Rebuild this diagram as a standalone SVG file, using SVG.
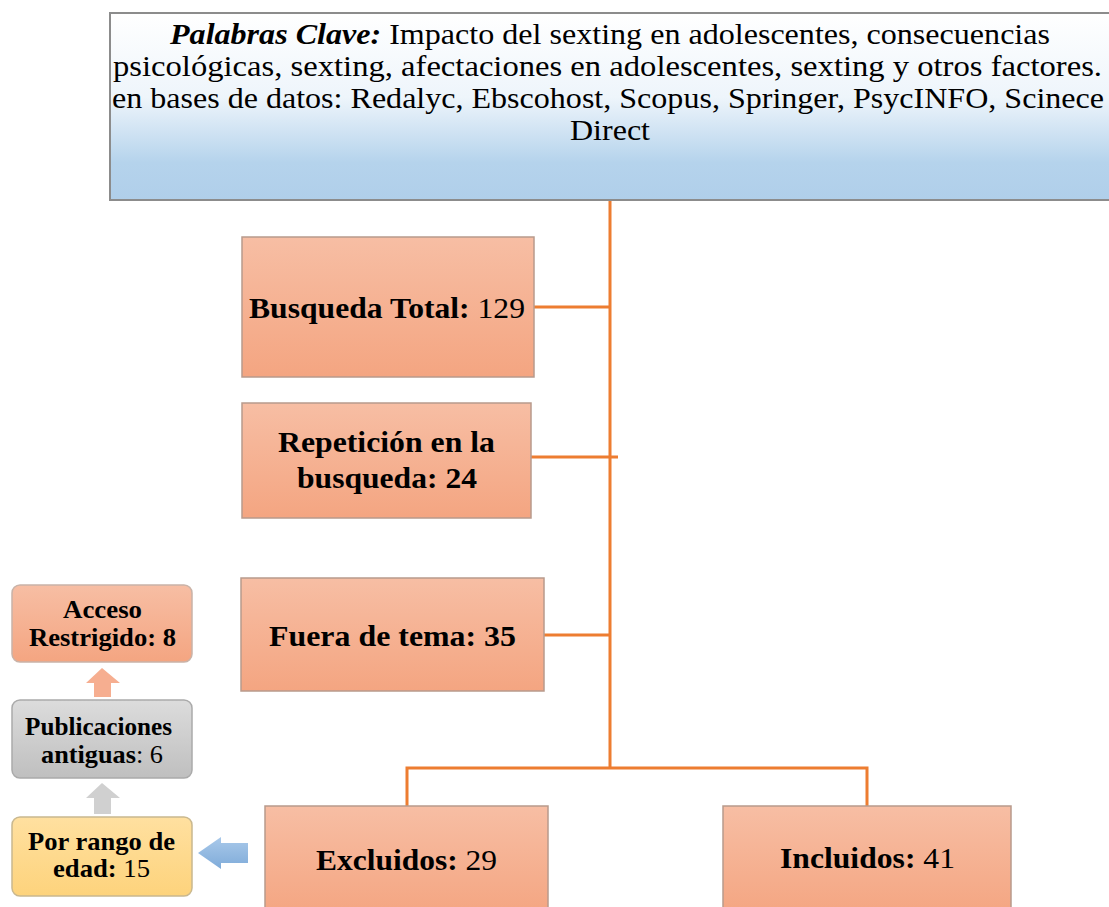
<svg xmlns="http://www.w3.org/2000/svg" width="1109" height="907" viewBox="0 0 1109 907">
<defs>
<linearGradient id="gBlue" x1="0" y1="0" x2="0" y2="1">
<stop offset="0" stop-color="#ffffff"/><stop offset="0.45" stop-color="#eef5fb"/><stop offset="0.8" stop-color="#b5d3ec"/><stop offset="1" stop-color="#b0cfea"/>
</linearGradient>
<linearGradient id="gOr" x1="0" y1="0" x2="0" y2="1">
<stop offset="0" stop-color="#f7bea4"/><stop offset="1" stop-color="#f4a581"/>
</linearGradient>
<linearGradient id="gGray" x1="0" y1="0" x2="0" y2="1">
<stop offset="0" stop-color="#dcdcdc"/><stop offset="1" stop-color="#bfbfbf"/>
</linearGradient>
<linearGradient id="gYel" x1="0" y1="0" x2="0" y2="1">
<stop offset="0" stop-color="#ffe0a0"/><stop offset="1" stop-color="#fdd37c"/>
</linearGradient>
<linearGradient id="gArrBlue" x1="0" y1="0" x2="0" y2="1">
<stop offset="0" stop-color="#a9c9ea"/><stop offset="1" stop-color="#7fabd9"/>
</linearGradient>
</defs>
<style>
.t{font-family:"Liberation Serif","Times New Roman",serif;fill:#000}
.b{font-weight:bold}
.box{stroke:#b89a8c;stroke-width:1.5}
.conn{stroke:#ed7d31;stroke-width:3;fill:none}
</style>
<rect width="1109" height="907" fill="#fff"/>
<g id="connectors">
<line class="conn" x1="610" y1="200" x2="610" y2="768"/>
<line class="conn" x1="534" y1="307" x2="610" y2="307"/>
<line class="conn" x1="531" y1="457" x2="618" y2="457"/>
<line class="conn" x1="544" y1="635" x2="610" y2="635"/>
<polyline class="conn" points="407,806 407,768 867,768 867,806"/>
<polygon points="248,843 221,843 221,837 198,853 221,869 221,863 248,863" fill="url(#gArrBlue)"/>
<polygon points="102,668 86,683 94,683 94,697 111,697 111,683 120,683" fill="#f6ae90"/>
<polygon points="102,783 86,798 94,798 94,814 111,814 111,798 120,798" fill="#d0d0d0"/>
</g>
<g id="top">
<rect x="110" y="13" width="1010" height="187" fill="url(#gBlue)" stroke="#8c8c8c" stroke-width="2"/>
<text class="t" font-size="30" text-anchor="middle"><tspan x="610" y="44" textLength="880" lengthAdjust="spacingAndGlyphs"><tspan class="b" font-style="italic">Palabras Clave:</tspan> Impacto del sexting en adolescentes, consecuencias</tspan></text>
<text class="t" font-size="30" x="113" y="76" textLength="989" lengthAdjust="spacingAndGlyphs">psicológicas, sexting, afectaciones en adolescentes, sexting y otros factores.</text>
<text class="t" font-size="30" x="112" y="108" textLength="992" lengthAdjust="spacingAndGlyphs">en bases de datos: Redalyc, Ebscohost, Scopus, Springer, PsycINFO, Scinece</text>
<text class="t" font-size="30" x="570" y="140" textLength="80" lengthAdjust="spacingAndGlyphs">Direct</text>
</g>
<g id="busqueda">
<rect class="box" x="242" y="237" width="292" height="140" fill="url(#gOr)"/>
<text class="t" font-size="29" x="249" y="318" textLength="276" lengthAdjust="spacingAndGlyphs"><tspan class="b">Busqueda Total:</tspan> 129</text>
</g>
<g id="repeticion">
<rect class="box" x="242" y="403" width="289" height="115" fill="url(#gOr)"/>
<text class="t b" font-size="29"><tspan x="278" y="452" textLength="217" lengthAdjust="spacingAndGlyphs">Repetición en la</tspan><tspan x="297" y="488" textLength="180" lengthAdjust="spacingAndGlyphs">busqueda: 24</tspan></text>
</g>
<g id="fuera">
<rect class="box" x="241" y="578" width="303" height="113" fill="url(#gOr)"/>
<text class="t b" font-size="29" x="269" y="646" textLength="247" lengthAdjust="spacingAndGlyphs">Fuera de tema: 35</text>
</g>
<g id="excluidos">
<rect class="box" x="265" y="806" width="283" height="110" fill="url(#gOr)"/>
<text class="t" font-size="29" x="316" y="870" textLength="181" lengthAdjust="spacingAndGlyphs"><tspan class="b">Excluidos:</tspan> 29</text>
</g>
<g id="incluidos">
<rect class="box" x="723" y="806" width="288" height="110" fill="url(#gOr)"/>
<text class="t" font-size="29" x="780" y="868" textLength="175" lengthAdjust="spacingAndGlyphs"><tspan class="b">Incluidos:</tspan> 41</text>
</g>
<g id="acceso">
<rect x="12" y="585" width="180" height="77" rx="8" fill="url(#gOr)" stroke="#c9b3a8" stroke-width="1.5"/>
<text class="t b" font-size="25"><tspan x="63" y="618" textLength="79" lengthAdjust="spacingAndGlyphs">Acceso</tspan><tspan x="29" y="646" textLength="147" lengthAdjust="spacingAndGlyphs">Restrigido: 8</tspan></text>
</g>
<g id="publicaciones">
<rect x="12" y="700" width="180" height="78" rx="8" fill="url(#gGray)" stroke="#aaaaaa" stroke-width="1.5"/>
<text class="t" font-size="25"><tspan x="25" y="735" class="b" textLength="147" lengthAdjust="spacingAndGlyphs">Publicaciones</tspan><tspan x="41" y="763" textLength="122" lengthAdjust="spacingAndGlyphs"><tspan class="b">antiguas</tspan>: 6</tspan></text>
</g>
<g id="rango">
<rect x="12" y="817" width="180" height="79" rx="8" fill="url(#gYel)" stroke="#c9b88f" stroke-width="1.5"/>
<text class="t" font-size="25"><tspan x="28" y="850" class="b" textLength="147" lengthAdjust="spacingAndGlyphs">Por rango de</tspan><tspan x="53" y="877" textLength="97" lengthAdjust="spacingAndGlyphs"><tspan class="b">edad:</tspan> 15</tspan></text>
</g>
</svg>
